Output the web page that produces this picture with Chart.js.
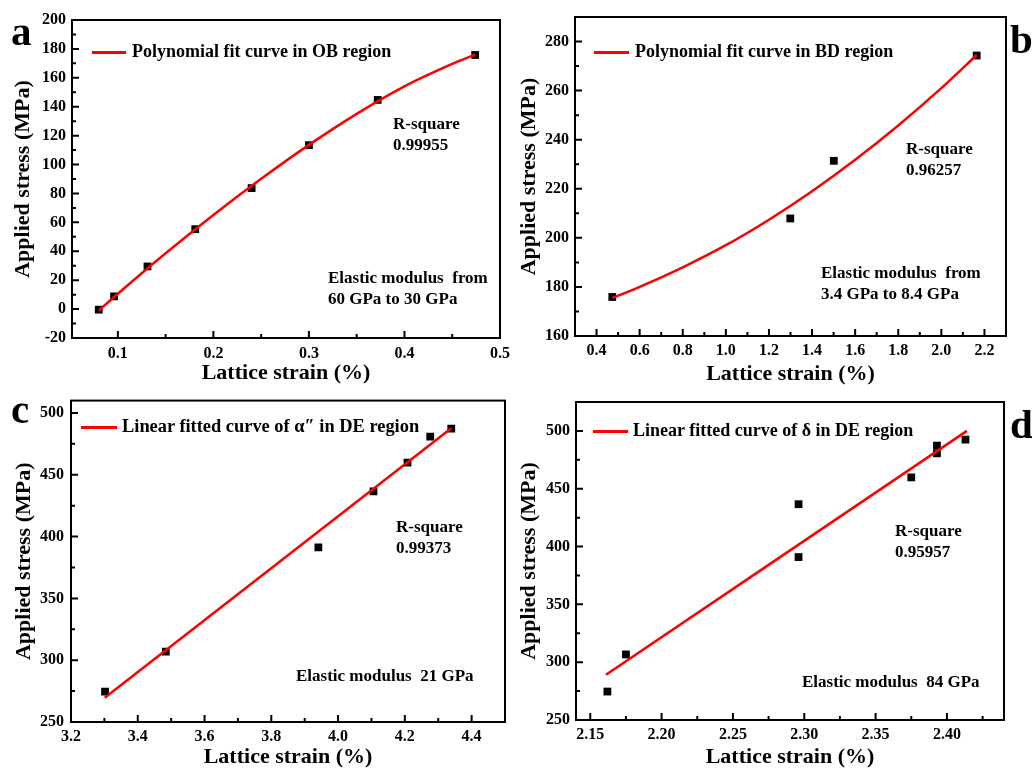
<!DOCTYPE html>
<html>
<head>
<meta charset="utf-8">
<title>Applied stress vs lattice strain</title>
<script src="https://cdn.jsdelivr.net/npm/chart.js@4.4.1/dist/chart.umd.min.js"></script>
<style>
    body {
        margin: 0;
        width: 1032px;
        height: 769px;
        overflow: hidden;
        position: relative;
        background: #fff;
        color: #000;
        font-family: 'Liberation Serif', 'Times New Roman', serif;
        font-weight: bold;
    }
    canvas { position: absolute; }
    .note { position: absolute; font-size: 17px; line-height: 21px; white-space: pre; }
    .legend-text { position: absolute; font-size: 18px; line-height: 21px; white-space: pre; }
    .legend-line { position: absolute; height: 3px; background: #ff0000; }
    .letter { position: absolute; font-size: 41px; line-height: 41px; }
</style>
</head>
<body>

<canvas id="chartA" width="516" height="387" style="left:0;top:0"></canvas>
<canvas id="chartB" width="516" height="388" style="left:516px;top:0"></canvas>
<canvas id="chartC" width="516" height="387" style="left:0;top:384px"></canvas>
<canvas id="chartD" width="516" height="387" style="left:516px;top:384px"></canvas>

<!-- panel a -->
<div class="letter" style="left:11px;top:11px">a</div>
<div class="legend-line" style="left:92px;top:51px;width:34px"></div>
<div class="legend-text" style="left:132px;top:41px">Polynomial fit curve in OB region</div>
<div class="note" style="left:393px;top:113px">R-square
0.99955</div>
<div class="note" style="left:328px;top:267px">Elastic modulus  from
60 GPa to 30 GPa</div>

<!-- panel b -->
<div class="letter" style="left:1010px;top:19px">b</div>
<div class="legend-line" style="left:594px;top:51px;width:35px"></div>
<div class="legend-text" style="left:635px;top:41px">Polynomial fit curve in BD region</div>
<div class="note" style="left:906px;top:138px">R-square
0.96257</div>
<div class="note" style="left:821px;top:262px">Elastic modulus  from
3.4 GPa to 8.4 GPa</div>

<!-- panel c -->
<div class="letter" style="left:11px;top:389px">c</div>
<div class="legend-line" style="left:81px;top:426px;width:36px"></div>
<div class="legend-text" style="left:122px;top:416px;font-size:18.4px">Linear fitted curve of α″ in DE region</div>
<div class="note" style="left:396px;top:516px">R-square
0.99373</div>
<div class="note" style="left:296px;top:665px">Elastic modulus  21 GPa</div>

<!-- panel d -->
<div class="letter" style="left:1010px;top:404px">d</div>
<div class="legend-line" style="left:593px;top:430px;width:35px"></div>
<div class="legend-text" style="left:633px;top:420px">Linear fitted curve of δ in DE region</div>
<div class="note" style="left:895px;top:520px">R-square
0.95957</div>
<div class="note" style="left:802px;top:671px">Elastic modulus  84 GPa</div>

<script>
const strainA = [0.080, 0.096, 0.131, 0.181, 0.240, 0.300, 0.372, 0.474];
const stressA = [-0.4, 8.8, 29.5, 55.3, 83.7, 113.4, 144.7, 175.8];
const fitStrainA = [0.080, 0.10, 0.15, 0.20, 0.25, 0.30, 0.35, 0.40, 0.45, 0.474];
const fitStressA = [-1.0, 10.6, 38.6, 65.1, 90.1, 113.6, 135.1, 154.1, 169.6, 176.1];
const xTicksA = [0.1, 0.2, 0.3, 0.4, 0.5];
const yTicksA = [-20, 0, 20, 40, 60, 80, 100, 120, 140, 160, 180, 200];

// Panel b - BD region
const strainB = [0.473, 1.299, 1.501, 2.164];
const stressB = [175.9, 207.9, 231.4, 274.3];
const fitStrainB = [0.473, 0.6, 0.8, 1.0, 1.2, 1.4, 1.6, 1.8, 2.0, 2.164];
const fitStressB = [175.5, 180, 188, 197, 207.4, 219, 231.8, 245.8, 261, 274.5];
const xTicksB = [0.4, 0.6, 0.8, 1.0, 1.2, 1.4, 1.6, 1.8, 2.0, 2.2];
const yTicksB = [160, 180, 200, 220, 240, 260, 280];

// Panel c - alpha'' in DE region
const strainC = [3.302, 3.484, 3.941, 4.106, 4.208, 4.276, 4.339];
const stressC = [274.6, 307.0, 391.2, 436.6, 459.8, 480.8, 487.3];
const fitStrainC = [3.301, 4.339];
const fitStressC = [269.7, 487.6];
const xTicksC = [3.2, 3.4, 3.6, 3.8, 4.0, 4.2, 4.4];
const yTicksC = [250, 300, 350, 400, 450, 500];

// Panel d - delta in DE region
const strainD = [2.162, 2.175, 2.296, 2.296, 2.375, 2.393, 2.393, 2.413];
const stressD = [274.6, 306.7, 436.6, 390.9, 459.8, 487.3, 480.6, 492.5];
const fitStrainD = [2.161, 2.414];
const fitStressD = [289.1, 500.0];
const xTicksD = [2.15, 2.20, 2.25, 2.30, 2.35, 2.40];
const yTicksD = [250, 300, 350, 400, 450, 500];

const FONT = "'Liberation Serif', 'Times New Roman', serif";

// Frame round the plot area plus inward major/minor ticks
const frameTicks = {
    id: 'frameTicks',
    afterDatasetsDraw(chart) {
        const { ctx, chartArea: a, scales: { x, y } } = chart;

        function minorsOf(scale) {
            const vals = scale.ticks.map(t => t.value);
            const step = vals[1] - vals[0];
            const out = [vals[0] - step / 2].concat(vals.map(v => v + step / 2));
            return out.filter(v => v >= scale.min - 1e-9 && v <= scale.max + 1e-9);
        }

        ctx.save();
        ctx.strokeStyle = '#000';
        ctx.lineWidth = 2;
        ctx.beginPath();
        x.ticks.forEach(t => {
            const px = x.getPixelForValue(t.value);
            ctx.moveTo(px, a.bottom); ctx.lineTo(px, a.bottom - 7);
        });
        minorsOf(x).forEach(v => {
            const px = x.getPixelForValue(v);
            ctx.moveTo(px, a.bottom); ctx.lineTo(px, a.bottom - 4);
        });
        y.ticks.forEach(t => {
            const py = y.getPixelForValue(t.value);
            ctx.moveTo(a.left, py); ctx.lineTo(a.left + 7, py);
        });
        minorsOf(y).forEach(v => {
            const py = y.getPixelForValue(v);
            ctx.moveTo(a.left, py); ctx.lineTo(a.left + 4, py);
        });
        ctx.stroke();
        ctx.strokeRect(a.left, a.top, a.right - a.left, a.bottom - a.top);
        ctx.restore();
    }
};

function buildChart(canvasId, p) {
    const canvas = document.getElementById(canvasId);
    return new Chart(canvas, {
        type: 'scatter',
        data: {
            datasets: [
                {
                    label: 'fit',
                    data: p.fitX.map((v, i) => ({ x: v, y: p.fitY[i] })),
                    showLine: true,
                    borderColor: '#ff0000',
                    borderWidth: 2.5,
                    pointRadius: 0,
                    cubicInterpolationMode: 'monotone',
                    fill: false
                },
                {
                    label: 'data',
                    data: p.x.map((v, i) => ({ x: v, y: p.y[i] })),
                    showLine: false,
                    pointStyle: 'rect',
                    pointRadius: 5.5,
                    pointBackgroundColor: '#000',
                    pointBorderWidth: 0
                }
            ]
        },
        options: {
            responsive: false,
            animation: false,
            layout: { padding: p.pad },
            plugins: {
                legend: { display: false },
                tooltip: { enabled: false }
            },
            scales: {
                x: {
                    type: 'linear',
                    min: p.xMin,
                    max: p.xMax,
                    afterBuildTicks: s => { s.ticks = p.xTicks.map(v => ({ value: v })); },
                    afterFit: s => { s.height = p.xHeight; },
                    grid: { display: false, drawTicks: false },
                    border: { display: false },
                    ticks: {
                        color: '#000',
                        padding: p.xTickPad,
                        maxRotation: 0,
                        autoSkip: false,
                        font: { family: FONT, size: 16, weight: 'bold' },
                        callback: v => v.toFixed(p.xDec)
                    },
                    title: {
                        display: true,
                        text: 'Lattice strain (%)',
                        color: '#000',
                        padding: 0,
                        font: { family: FONT, size: 22, weight: 'bold' }
                    }
                },
                y: {
                    type: 'linear',
                    min: p.yMin,
                    max: p.yMax,
                    afterBuildTicks: s => { s.ticks = p.yTicks.map(v => ({ value: v })); },
                    afterFit: s => { s.width = p.yWidth; },
                    grid: { display: false, drawTicks: false },
                    border: { display: false },
                    ticks: {
                        color: '#000',
                        padding: p.yTickPad,
                        autoSkip: false,
                        font: { family: FONT, size: 16, weight: 'bold' },
                        callback: v => String(v)
                    },
                    title: {
                        display: true,
                        text: 'Applied stress (MPa)',
                        color: '#000',
                        padding: { top: p.yTitlePad, bottom: 0 },
                        font: { family: FONT, size: 22, weight: 'bold' }
                    }
                }
            }
        },
        plugins: [frameTicks]
    });
}

buildChart('chartA', {
    x: strainA, y: stressA, fitX: fitStrainA, fitY: fitStressA,
    xMin: 0.052, xMax: 0.5, xTicks: xTicksA, xDec: 1,
    yMin: -20, yMax: 200, yTicks: yTicksA,
    pad: { left: 0, top: 20, right: 14, bottom: 0 },
    yWidth: 72, xHeight: 49, xTickPad: 6, yTickPad: 6, yTitlePad: 10
});

buildChart('chartB', {
    x: strainB, y: stressB, fitX: fitStrainB, fitY: fitStressB,
    xMin: 0.3, xMax: 2.3, xTicks: xTicksB, xDec: 1,
    yMin: 160, yMax: 290, yTicks: yTicksB,
    pad: { left: 0, top: 17, right: 26, bottom: 0 },
    yWidth: 59, xHeight: 52, xTickPad: 5, yTickPad: 6, yTitlePad: 0
});

buildChart('chartC', {
    x: strainC, y: stressC, fitX: fitStrainC, fitY: fitStressC,
    xMin: 3.2, xMax: 4.5, xTicks: xTicksC, xDec: 1,
    yMin: 250, yMax: 510, yTicks: yTicksC,
    pad: { left: 0, top: 16, right: 11, bottom: 0 },
    yWidth: 71, xHeight: 49, xTickPad: 5, yTickPad: 7, yTitlePad: 11
});

buildChart('chartD', {
    x: strainD, y: stressD, fitX: fitStrainD, fitY: fitStressD,
    xMin: 2.14, xMax: 2.44, xTicks: xTicksD, xDec: 2,
    yMin: 250, yMax: 525, yTicks: yTicksD,
    pad: { left: 0, top: 18, right: 28, bottom: 0 },
    yWidth: 60, xHeight: 51, xTickPad: 5, yTickPad: 6, yTitlePad: 0
});
</script>
</body>
</html>
